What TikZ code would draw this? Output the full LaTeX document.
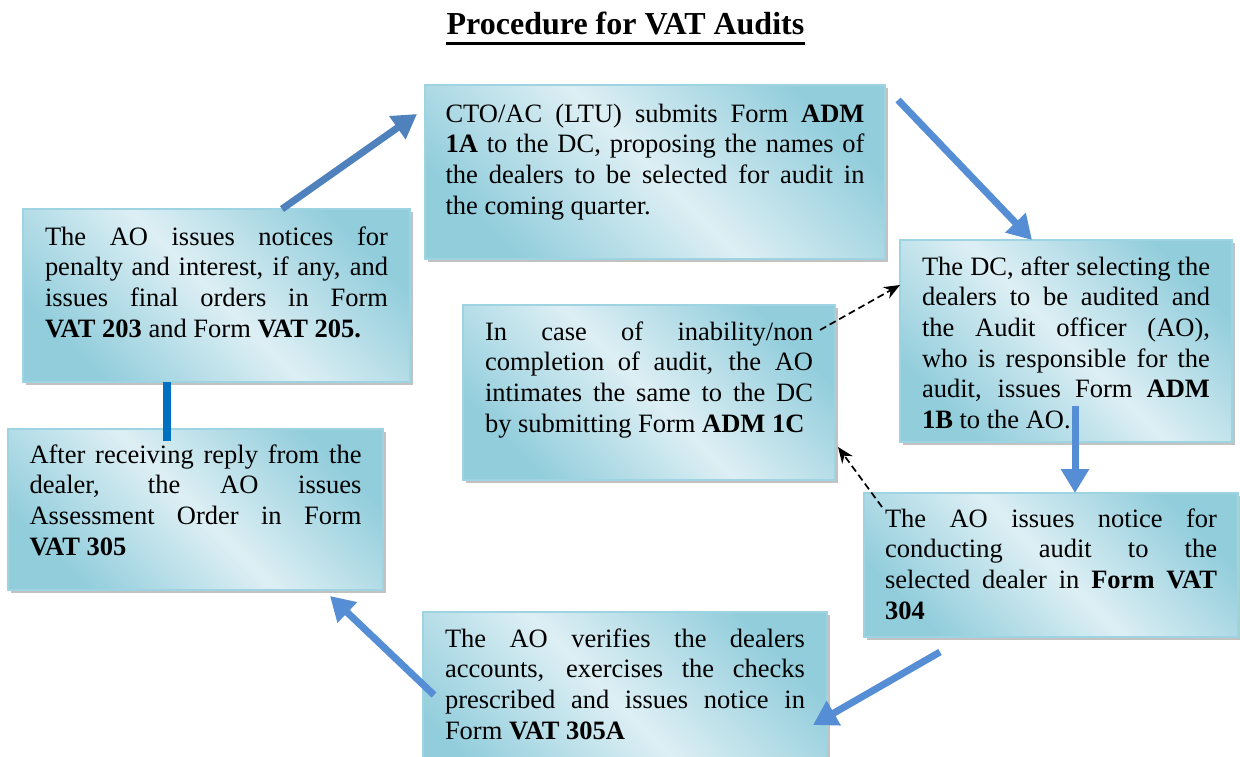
\documentclass[tikz,border=0pt]{standalone}
\usepackage{fontspec}
\setmainfont{Liberation Serif}
\usetikzlibrary{arrows.meta, shadows}

\definecolor{boxdark}{HTML}{92CDDC}
\definecolor{boxlight}{HTML}{DDEFF4}
\definecolor{boxline}{HTML}{9ED4E2}
\definecolor{flowblue}{HTML}{558ED5}
\definecolor{flowdark}{HTML}{4F81BD}
\definecolor{linkblue}{HTML}{0070C0}

\tikzset{
  stage/.style={anchor=north west, draw=boxline, line width=2.5pt, inner ysep=0pt, outer sep=0pt,
    top color=boxdark, bottom color=boxdark, middle color=boxlight, shading angle=-45,
    drop shadow={shadow xshift=3pt, shadow yshift=-3pt, fill=gray!80, opacity=0.6},
    align=justify, font=\fontsize{26.5pt}{30.7pt}\selectfont},
  flow/.style={line width=7pt, flowblue, -{Triangle[length=24pt, width=27pt]}},
  hint/.style={line width=1.7pt, dash pattern=on 7pt off 4pt, -{Stealth[length=16pt, width=13pt]}}
}
\tolerance=10000
\hbadness=10000

\begin{document}
\begin{tikzpicture}[x=1pt, y=-1pt]
  \useasboundingbox (0,0) rectangle (1240,756);
  \clip (0,0) rectangle (1240,756);

  % title
  \node[font=\fontsize{32pt}{38pt}\selectfont\bfseries, inner sep=0pt, anchor=base] (title) at (625.5,34) {Procedure for VAT Audits};
  \draw[line width=3pt] ([yshift=-9.5pt]title.base west) -- ([yshift=-9.5pt]title.base east);

  % steps
  \node[stage, text width=419pt, inner xsep=20.5pt, text height=37pt, text depth=137pt] (cto) at (425,85)
    {CTO/AC (LTU) submits Form \textbf{ADM}\linebreak \textbf{1A} to the DC, proposing the names of\linebreak the dealers to be selected for audit in\linebreak the coming quarter.};
  \node[stage, text width=288pt, inner xsep=22pt, text height=35pt, text depth=167pt] (dcselect) at (900,240)
    {The DC, after selecting the\linebreak dealers to be audited and\linebreak the Audit officer (AO),\linebreak who is responsible for the\linebreak audit, issues Form \textbf{ADM}\linebreak \textbf{1B} to the AO.};
  \node[stage, text width=332pt, inner xsep=21pt, text height=34pt, text depth=110pt] (notice) at (864,493)
    {The AO issues notice for\linebreak conducting audit to the\linebreak selected dealer in \textbf{Form VAT}\linebreak \textbf{304}};
  \node[stage, text width=360pt, inner xsep=22pt, text height=35pt, text depth=160pt] (verify) at (423,612)
    {The AO verifies the dealers\linebreak accounts, exercises the checks\linebreak prescribed and issues notice in\linebreak Form \textbf{VAT 305A}};
  \node[stage, text width=332pt, inner xsep=21.5pt, text height=34pt, text depth=127pt] (reply) at (8,429)
    {After receiving reply from the\linebreak dealer, the AO issues\linebreak Assessment Order in Form\linebreak \textbf{VAT 305}};
  \node[stage, text width=343pt, inner xsep=22pt, text height=36pt, text depth=137pt] (penalty) at (23,209)
    {The AO issues notices for\linebreak penalty and interest, if any, and\linebreak issues final orders in Form\linebreak \textbf{VAT 203} and Form \textbf{VAT 205.}};
  \node[stage, text width=328pt, inner xsep=22pt, text height=35pt, text depth=140pt] (inability) at (463,305)
    {In case of inability/non\linebreak completion of audit, the AO\linebreak intimates the same to the DC\linebreak by submitting Form \textbf{ADM 1C}};

  % cycle
  \draw[flow, flowdark] ([shift={(259,0)}]penalty.north west) -- ([shift={(-8,29)}]cto.north west);
  \draw[flow] ([shift={(13,15)}]cto.north east) -- ([shift={(132,0)}]dcselect.north west);
  \draw[flow] ([shift={(175,-36)}]dcselect.south west) -- ([shift={(211,0)}]notice.north west);
  \draw[flow] ([shift={(76,15)}]notice.south west) -- ([shift={(-14,113)}]verify.north east);
  \draw[flow] ([shift={(11,83)}]verify.north west) -- ([shift={(322,6)}]reply.south west);
  \draw[line width=8pt, linkblue] ([shift={(144,0)}]penalty.south west) -- ([shift={(159,12)}]reply.north west);

  % side path
  \draw[hint] ([shift={(-15,25)}]inability.north east) -- ([shift={(0,45)}]dcselect.north west);
  \draw[hint] ([shift={(18,14)}]notice.north west) -- ([shift={(3,-33)}]inability.south east);
\end{tikzpicture}
\end{document}
